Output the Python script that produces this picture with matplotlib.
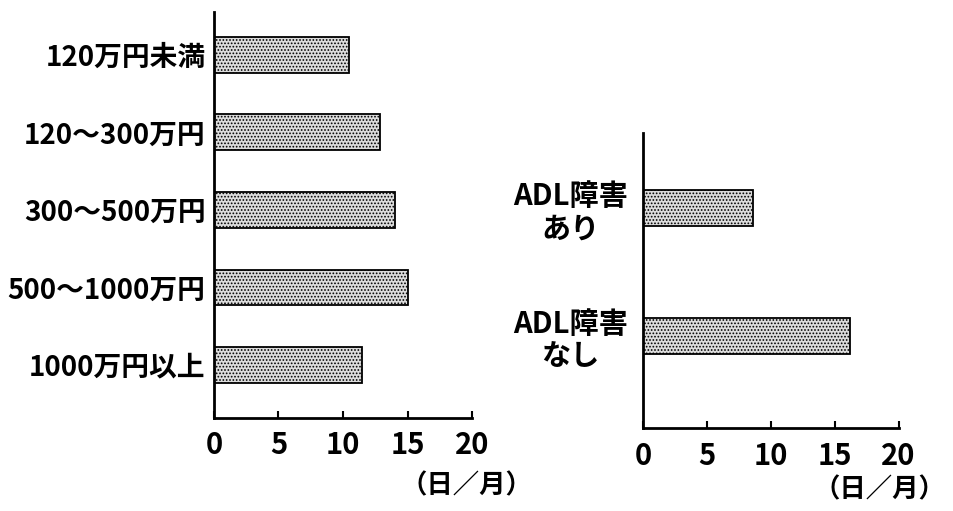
import matplotlib.pyplot as plt

plt.rcParams['font.family'] = ['Noto Sans CJK JP', 'DejaVu Sans']
plt.rcParams['hatch.color'] = '#5a5a5a'
plt.rcParams['hatch.linewidth'] = 0.8

# 年収別の利用日数（日／月）
income_labels = ['120万円未満', '120〜300万円', '300〜500万円', '500〜1000万円', '1000万円以上']
income_days = [10.5, 12.9, 14.0, 15.0, 11.5]

# ADL障害の有無別
adl_labels = ['ADL障害\nあり', 'ADL障害\nなし']
adl_days = [8.6, 16.2]

x_ticks = [0, 5, 10, 15, 20]


def draw_panel(ax, labels, values, bar_h, ylim, label_size):
    pos = list(range(len(values)))
    ax.barh(pos, values, height=bar_h, color='#dcdcdc', edgecolor='black',
            linewidth=1.3, hatch='.....')
    ax.set_xlim(0, 20)
    ax.set_ylim(*ylim)
    ax.set_xticks(x_ticks)
    ax.set_xticklabels([str(t) for t in x_ticks], fontsize=21, fontweight='bold')
    ax.set_yticks(pos)
    ax.set_yticklabels(labels, fontsize=label_size, fontweight='bold',
                       multialignment='center', linespacing=1.1)
    ax.tick_params(axis='x', direction='in', length=5, width=1.5, pad=9)
    ax.tick_params(axis='y', length=0, pad=6)
    for side in ['top', 'right']:
        ax.spines[side].set_visible(False)
    for side in ['left', 'bottom']:
        ax.spines[side].set_linewidth(2)


fig = plt.figure(figsize=(9.54, 5.11), dpi=100)

ax1 = fig.add_axes([0.2243, 0.182, 0.2705, 0.795])
draw_panel(ax1, income_labels, income_days, 0.46, (4.684, -0.555), 20)

ax2 = fig.add_axes([0.674, 0.162, 0.268, 0.578])
draw_panel(ax2, adl_labels, adl_days, 0.28, (1.719, -0.586), 21)
ax2.tick_params(axis='y', pad=11)

fig.text(0.489, 0.05, '（日／月）', fontsize=19, fontweight='bold', ha='center', va='center')
fig.text(0.922, 0.042, '（日／月）', fontsize=19, fontweight='bold', ha='center', va='center')

fig.savefig('out.png', dpi=100, facecolor='white')
